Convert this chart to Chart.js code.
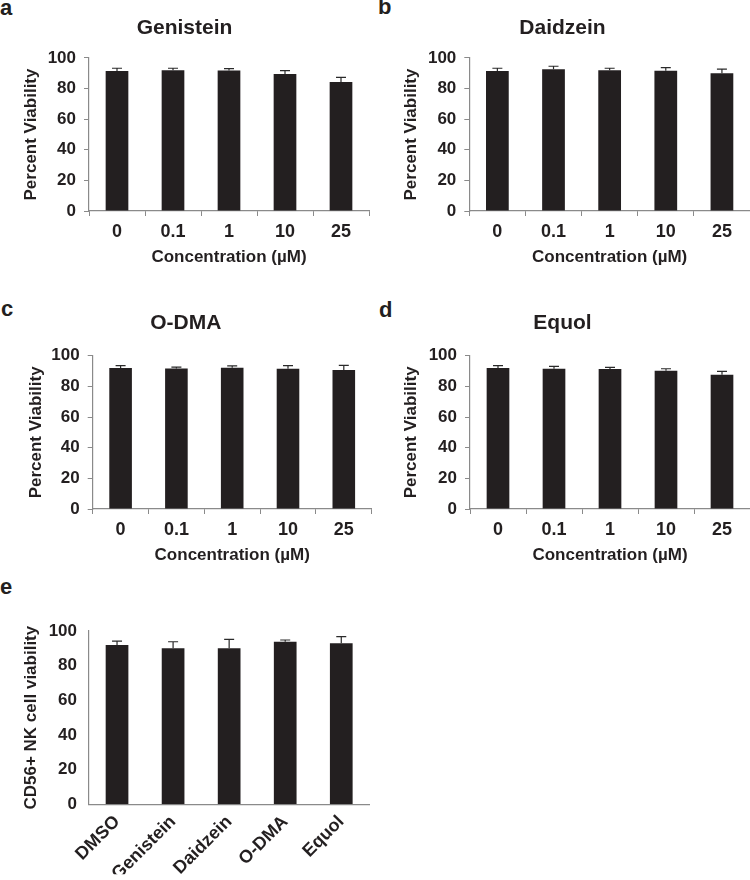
<!DOCTYPE html>
<html>
<head>
<meta charset="utf-8">
<script src="https://cdn.jsdelivr.net/npm/chart.js@4"></script>
<style>
  html, body { margin: 0; padding: 0; background: #fff; }
  #page { position: relative; width: 750px; height: 880px; overflow: hidden; }
  #page canvas { position: absolute; }
  .panel-letter {
    position: absolute;
    font: bold 22px "Liberation Sans", Arial, sans-serif;
    line-height: 22px;
    color: #231f20;
  }
</style>
</head>
<body>
<div id="page">
  <div class="panel-letter" style="left:0px;top:-3px">a</div>
  <div class="panel-letter" style="left:378px;top:-4px">b</div>
  <div class="panel-letter" style="left:1px;top:298px">c</div>
  <div class="panel-letter" style="left:379px;top:299px">d</div>
  <div class="panel-letter" style="left:0px;top:576px">e</div>

  <canvas id="chartA" width="388" height="280" style="left:0px;top:0px"></canvas>
  <canvas id="chartB" width="396" height="280" style="left:375px;top:0px"></canvas>
  <canvas id="chartC" width="390" height="290" style="left:0px;top:290px"></canvas>
  <canvas id="chartD" width="400" height="290" style="left:375px;top:290px"></canvas>
  <canvas id="chartE" width="388" height="320" style="left:0px;top:560px"></canvas>
</div>

<script>
// data
const concLabels = ['0', '0.1', '1', '10', '25'];

const genisteinMean = [91.5, 92.0, 91.8, 89.5, 84.3];
const genisteinErr  = [1.8, 1.3, 1.2, 2.3, 3.0];

const daidzeinMean = [91.5, 92.6, 92.0, 91.7, 90.0];
const daidzeinErr  = [1.8, 2.0, 1.3, 2.0, 2.7];

const odmaMean = [92.0, 91.7, 92.2, 91.5, 90.6];
const odmaErr  = [1.5, 0.9, 1.1, 2.0, 3.1];

const equolMean = [92.0, 91.5, 91.3, 90.2, 87.6];
const equolErr  = [1.5, 1.5, 1.1, 1.3, 2.2];

const nkLabels = ['DMSO', 'Genistein', 'Daidzein', 'O-DMA', 'Equol'];
const nkMean = [91.9, 90.0, 90.0, 93.8, 92.9];
const nkErr  = [2.3, 3.8, 5.2, 1.0, 3.8];

const yTickValues = [0, 20, 40, 60, 80, 100];

const FONT = '"Liberation Sans", Arial, sans-serif';
const INK = '#231f20';
const AXIS = '#8a8a8a';

Chart.defaults.font.family = FONT;
Chart.defaults.color = INK;

// upper error bars with a cap
const errorBars = {
    id: 'errorBars',
    afterDatasetsDraw(chart) {
        const ctx = chart.ctx;
        const y = chart.scales.y;
        chart.data.datasets.forEach((ds, i) => {
            chart.getDatasetMeta(i).data.forEach((bar, j) => {
                const top = y.getPixelForValue(ds.data[j] + ds.errors[j]);
                ctx.save();
                ctx.strokeStyle = '#2a2a2a';
                ctx.lineWidth = 1.2;
                ctx.beginPath();
                ctx.moveTo(bar.x, bar.y);
                ctx.lineTo(bar.x, top);
                ctx.moveTo(bar.x - 5, top);
                ctx.lineTo(bar.x + 5, top);
                ctx.stroke();
                ctx.restore();
            });
        });
    }
};

function panel(id, labels, values, errors, p) {
    new Chart(document.getElementById(id), {
        type: 'bar',
        data: {
            labels: labels,
            datasets: [{
                data: values,
                errors: errors,
                backgroundColor: INK,
                borderWidth: 0,
                categoryPercentage: 1,
                barPercentage: 0.405
            }]
        },
        options: {
            responsive: false,
            animation: false,
            events: [],
            layout: { padding: p.padding },
            plugins: {
                legend: { display: false },
                tooltip: { enabled: false },
                title: {
                    display: !!p.title,
                    text: p.title,
                    color: INK,
                    font: { size: 21, weight: 'bold' },
                    padding: { top: 0, bottom: p.titleGap || 0 }
                }
            },
            scales: {
                x: {
                    afterFit: s => { s.height = p.xHeight; },
                    border: { display: true, color: AXIS, width: 1.2 },
                    grid: {
                        display: !p.rotate,
                        drawOnChartArea: false,
                        drawTicks: true,
                        tickLength: 5,
                        color: AXIS,
                        offset: true
                    },
                    ticks: {
                        autoSkip: false,
                        color: INK,
                        font: { size: 18, weight: 'bold' },
                        padding: p.rotate ? 2 : 5,
                        minRotation: p.rotate ? 45 : 0,
                        maxRotation: p.rotate ? 45 : 0
                    },
                    title: {
                        display: !!p.xTitle,
                        text: p.xTitle,
                        color: INK,
                        font: { size: 17, weight: 'bold' },
                        padding: { top: 0, bottom: 5 }
                    }
                },
                y: {
                    min: 0,
                    max: 100,
                    afterFit: s => { s.width = p.yWidth; },
                    afterBuildTicks: s => { s.ticks = yTickValues.map(v => ({ value: v })); },
                    border: { display: true, color: AXIS, width: 1.2 },
                    grid: {
                        display: !p.rotate,
                        drawOnChartArea: false,
                        drawTicks: true,
                        tickLength: 5,
                        color: AXIS
                    },
                    ticks: {
                        color: INK,
                        font: { size: 17, weight: 'bold' },
                        padding: p.rotate ? 7 : 8
                    },
                    title: {
                        display: true,
                        text: p.yTitle,
                        color: INK,
                        font: { size: 17, weight: 'bold' },
                        padding: { top: p.yTitlePad, bottom: 0 }
                    }
                }
            }
        },
        plugins: [errorBars]
    });
}

// a - Genistein
panel('chartA', concLabels, genisteinMean, genisteinErr, {
    title: 'Genistein', titleGap: 17.4,
    xTitle: 'Concentration (\u00b5M)', yTitle: 'Percent Viability',
    padding: { top: 15.4, right: 19, bottom: 7, left: 0 },
    yWidth: 89, xHeight: 62, yTitlePad: 21.5
});

// b - Daidzein
panel('chartB', concLabels, daidzeinMean, daidzeinErr, {
    title: 'Daidzein', titleGap: 17.4,
    xTitle: 'Concentration (\u00b5M)', yTitle: 'Percent Viability',
    padding: { top: 15.4, right: 21, bottom: 7, left: 0 },
    yWidth: 94.3, xHeight: 62, yTitlePad: 26.5
});

// c - O-DMA
panel('chartC', concLabels, odmaMean, odmaErr, {
    title: 'O-DMA', titleGap: 20.1,
    xTitle: 'Concentration (\u00b5M)', yTitle: 'Percent Viability',
    padding: { top: 20.4, right: 18.3, bottom: 9, left: 0 },
    yWidth: 92.7, xHeight: 62, yTitlePad: 26.5
});

// d - Equol
panel('chartD', concLabels, equolMean, equolErr, {
    title: 'Equol', titleGap: 20.1,
    xTitle: 'Concentration (\u00b5M)', yTitle: 'Percent Viability',
    padding: { top: 20.4, right: 25, bottom: 9, left: 0 },
    yWidth: 95, xHeight: 62, yTitlePad: 26.5
});

// e - CD56+ NK cells
panel('chartE', nkLabels, nkMean, nkErr, {
    title: '', rotate: true,
    xTitle: '', yTitle: 'CD56+ NK cell viability',
    padding: { top: 71, right: 18.7, bottom: 5.7, left: 0 },
    yWidth: 89, xHeight: 70, yTitlePad: 21.5
});
</script>
</body>
</html>
